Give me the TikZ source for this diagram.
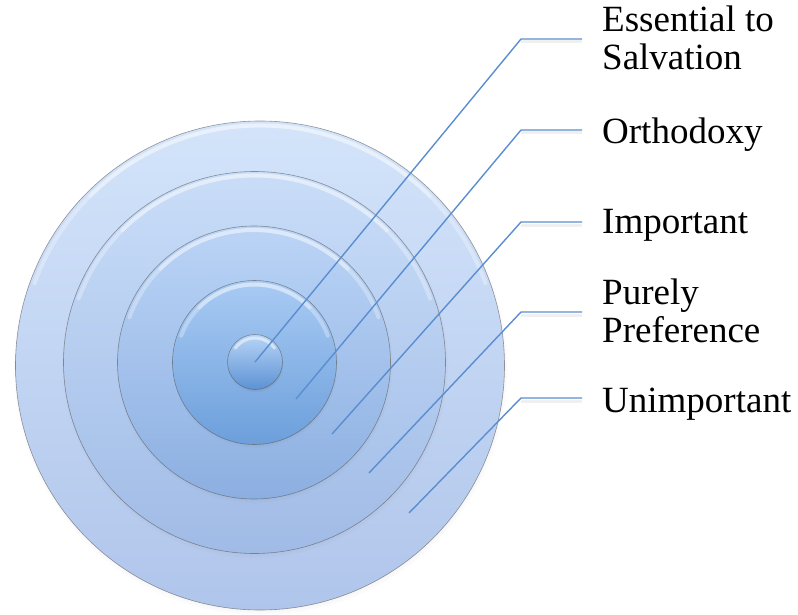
\documentclass[tikz,border=0pt]{standalone}
\usepackage{fontspec}
\setmainfont{Liberation Serif}
\usetikzlibrary{shadows}
\definecolor{leadc}{HTML}{5A8ED0}
\definecolor{cAt}{HTML}{D3E4FA}
\definecolor{cAb}{HTML}{B0C5EB}
\definecolor{cBt}{HTML}{C9DDF8}
\definecolor{cBb}{HTML}{A0BBE6}
\definecolor{cCt}{HTML}{BBD4F6}
\definecolor{cCb}{HTML}{8CAFE1}
\definecolor{cDt}{HTML}{A9CBF4}
\definecolor{cDb}{HTML}{6C9FDB}
\definecolor{cEt}{HTML}{B8D5F6}
\definecolor{cEb}{HTML}{5C92D4}
\tikzset{
  target/.style={circle, inner sep=0pt, draw=black!65, line width=0.6pt, draw opacity=0.6,
    circular drop shadow={shadow xshift=0.5pt, shadow yshift=-2.5pt, shadow scale=1.012, opacity=0.4}},
  gloss/.style={draw=white, line width=4pt, opacity=0.3, line cap=round},
  leader/.style={draw=leadc, line width=1.4pt},
  leadshade/.style={draw=black, line width=3pt, draw opacity=0.06},
  lbl/.style={anchor=base west, inner sep=0pt, font=\fontsize{37}{38}\selectfont, align=left}
}
\newcommand{\glossarcs}[2]{%
  \draw[gloss] ([shift={(200:#2)}]#1.center) arc[start angle=200, end angle=340, radius=#2];
  \draw[gloss] ([shift={(225:#2)}]#1.center) arc[start angle=225, end angle=315, radius=#2];
}
\begin{document}
\begin{tikzpicture}[x=1pt,y=-1pt]
\useasboundingbox (0,0) rectangle (798,615);
% concentric circles
\node[target, minimum size=489pt, top color=cAt, bottom color=cAb] (r5) at (260,365.5) {};
\glossarcs{r5}{240}
\node[target, minimum size=382pt, top color=cBt, bottom color=cBb] (r4) at (254.5,362.5) {};
\glossarcs{r4}{187}
\node[target, minimum size=273pt, top color=cCt, bottom color=cCb] (r3) at (254,362.5) {};
\glossarcs{r3}{132.5}
\node[target, minimum size=164pt, top color=cDt, bottom color=cDb] (r2) at (254.5,362.5) {};
\glossarcs{r2}{78}
\node[target, minimum size=55pt, top color=cEt, bottom color=cEb] (r1) at (255,362) {};
\draw[gloss, line width=3pt, opacity=0.5] ([shift={(215:24)}]r1.center) arc[start angle=215, end angle=325, radius=24];
% labels
\node[lbl] (l1) at (602,70) {Essential to\\Salvation};
\node[lbl] (l2) at (602,143) {Orthodoxy};
\node[lbl] (l3) at (602,233) {Important};
\node[lbl] (l4) at (602,342) {Purely\\Preference};
\node[lbl] (l5) at (602,412) {Unimportant};
% leader geometry
\coordinate (k1) at (521,39);  \coordinate (e1) at (582,39);
\coordinate (k2) at (521,130); \coordinate (e2) at (582,130);
\coordinate (k3) at (521,222); \coordinate (e3) at (582,222);
\coordinate (k4) at (521,312); \coordinate (e4) at (582,312);
\coordinate (k5) at (521,398); \coordinate (e5) at (582,398);
\coordinate (t2) at (296,399);
\coordinate (t3) at (332,434);
\coordinate (t4) at (369,473);
\coordinate (t5) at (409,513);
% leader shadows
\foreach \i in {1,...,5}{
  \draw[leadshade] ([yshift=-3pt]k\i) -- ([yshift=-3pt]e\i);
}
% leaders
\draw[leader] (r1.center) -- (k1) -- (e1);
\draw[leader] (t2) -- (k2) -- (e2);
\draw[leader] (t3) -- (k3) -- (e3);
\draw[leader] (t4) -- (k4) -- (e4);
\draw[leader] (t5) -- (k5) -- (e5);
\end{tikzpicture}
\end{document}
